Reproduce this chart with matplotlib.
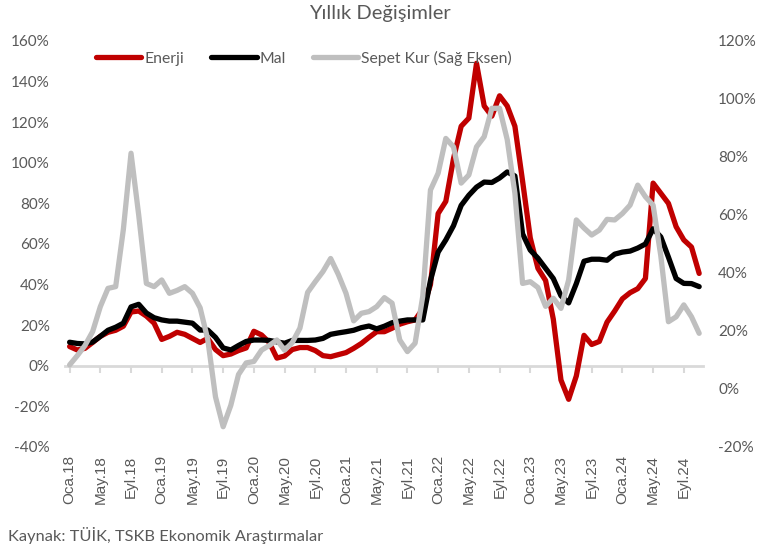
import numpy as np
import matplotlib
matplotlib.use("Agg")
import matplotlib.pyplot as plt
from matplotlib.ticker import FuncFormatter

plt.rcParams['font.family'] = ['Lato', 'DejaVu Sans']

# ---- data (annual % change, monthly Oca.18 .. Kas.24) ----
enerji = [
    9.5, 7.8, 8.6, 11.5, 14.5, 16.5, 17.5, 19.5, 26.5, 27,
    24.5, 21, 13, 14.5, 16.5, 15.5, 13.5, 11.5, 13.5, 8,
    5, 5.8, 7.5, 8.8, 17, 15.2, 11.5, 3.8, 4.8, 8,
    9, 9, 7.5, 5, 4.5, 5.5, 6.5, 8.6, 11, 14,
    16.8, 16.8, 18.5, 20.5, 21.7, 22.6, 28, 40, 75, 81,
    102, 118, 122, 149, 128, 123, 133, 128, 118, 91,
    63, 48, 42, 23, -7, -16.5, -5, 15, 10.5, 12,
    21.5, 27, 33, 36, 38, 43, 90, 85, 80, 68.5,
    62, 58.5, 45.5]

mal = [
    11.6, 11, 10.8, 11.7, 14.5, 17.5, 19, 21, 29, 30.3,
    26, 23.7, 22.6, 22, 22, 21.5, 21, 17.6, 17.6, 14,
    8.8, 7.8, 10, 12, 12.7, 12.7, 12.5, 11.8, 11.1, 12.5,
    12.5, 12.5, 12.7, 13.5, 15.5, 16.2, 16.8, 17.5, 18.8, 19.6,
    18.2, 19.5, 21.2, 22, 22.6, 22.6, 22.6, 42, 56, 62,
    69, 79, 84, 88, 90.5, 90.3, 92.5, 95.5, 93.5, 65,
    57, 53, 48, 43, 34.5, 31, 40.5, 51.5, 52.5, 52.5,
    52, 55, 56, 56.5, 58, 60, 67.5, 63.5, 53.5, 43,
    40.6, 40.5, 39]

sepet_kur = [
    8.3, 11.5, 15, 19.8, 28.4, 34.7, 35.3, 55, 81.3, 60,
    36.4, 35.3, 37.6, 33, 34, 35.3, 33, 28, 17, -2.7,
    -13, -5.6, 5, 9, 9.5, 13.4, 15, 16.9, 13.4, 16,
    21, 33.3, 37, 40.5, 45, 39.5, 33, 23.5, 26.1, 26.7,
    28.4, 31.5, 29.6, 16.9, 12.9, 15.8, 32, 68.6, 74.4, 86.4,
    83.5, 71, 73.8, 83.5, 87, 96.8, 96.8, 86, 67.5, 36.4,
    37, 35, 28.5, 31.3, 27.8, 37.6, 58.3, 55.5, 53.1, 54.8,
    58.5, 58.3, 60.5, 63.4, 70.3, 66.3, 63.4, 46, 23.2, 24.9,
    29, 24.9, 19.2]

tick_labels = ['Oca.18', 'May.18', 'Eyl.18', 'Oca.19', 'May.19', 'Eyl.19',
               'Oca.20', 'May.20', 'Eyl.20', 'Oca.21', 'May.21', 'Eyl.21',
               'Oca.22', 'May.22', 'Eyl.22', 'Oca.23', 'May.23', 'Eyl.23',
               'Oca.24', 'May.24', 'Eyl.24']

series_names = ['Enerji', 'Mal', 'Sepet Kur (Sağ Eksen)']

# ---- styling ----
RED = '#C00000'
BLACK = '#000000'
GRAY = '#BFBFBF'
TXT = '#595959'
AXIS = '#D9D9D9'
LW = 3.8

fig = plt.figure(figsize=(7.63, 5.53), dpi=100)
ax = fig.add_axes([65 / 763, 1 - 447 / 553, 638 / 763, 406 / 553])
ax2 = ax.twinx()

x = np.arange(len(enerji))
kw = dict(lw=LW, solid_capstyle='round', solid_joinstyle='round')
l1, = ax.plot(x, enerji, color=RED, label=series_names[0], zorder=3, **kw)
l2, = ax.plot(x, mal, color=BLACK, label=series_names[1], zorder=4, **kw)
l3, = ax2.plot(x, sepet_kur, color=GRAY, label=series_names[2], **kw)

ax.set_xlim(-0.6, 82.5)
ax.set_ylim(-40, 160)
ax2.set_ylim(-20, 120)
ax.set_yticks(np.arange(-40, 161, 20))
ax2.set_yticks(np.arange(-20, 121, 20))
pct = FuncFormatter(lambda v, p: f'{v:.0f}%')
ax.yaxis.set_major_formatter(pct)
ax2.yaxis.set_major_formatter(pct)

for a in (ax, ax2):
    for s in a.spines.values():
        s.set_visible(False)
    a.tick_params(axis='y', length=0, labelsize=11, colors=TXT)

ax.tick_params(axis='y', pad=11)
ax2.tick_params(axis='y', pad=11)

tick_pos = np.arange(0, 4 * len(tick_labels), 4)
ax.set_xticks(tick_pos)
ax.set_xticklabels(tick_labels, rotation=90, fontfamily='Liberation Sans',
                   fontsize=11, color=TXT)
ax.tick_params(axis='x', length=0, pad=6)

# zero line with tick marks (category axis crossing at 0)
sec = ax.secondary_xaxis(0, transform=ax.transData)
sec.set_xticks(tick_pos)
sec.tick_params(axis='x', length=5, width=1.5, color=AXIS, labelbottom=False)
sec.spines['bottom'].set_color(AXIS)
sec.spines['bottom'].set_linewidth(2)
for k in ('top', 'left', 'right'):
    sec.spines[k].set_visible(False)

fig.legend([l1, l2, l3], series_names, loc='center',
           bbox_to_anchor=(304 / 763, 1 - 58 / 553), ncol=3, frameon=False,
           fontsize=11.3, labelcolor=TXT, handlelength=2.9, handletextpad=0.2,
           columnspacing=1.7)

fig.text(380 / 763, 1 - 13 / 553, 'Yıllık Değişimler', ha='center', va='center',
         fontsize=14.5, color=TXT)
fig.text(8 / 763, 1 - 536 / 553, 'Kaynak: TÜİK, TSKB Ekonomik Araştırmalar',
         ha='left', va='center', fontsize=11.8, color=TXT)

fig.savefig('out.png', dpi=100)
